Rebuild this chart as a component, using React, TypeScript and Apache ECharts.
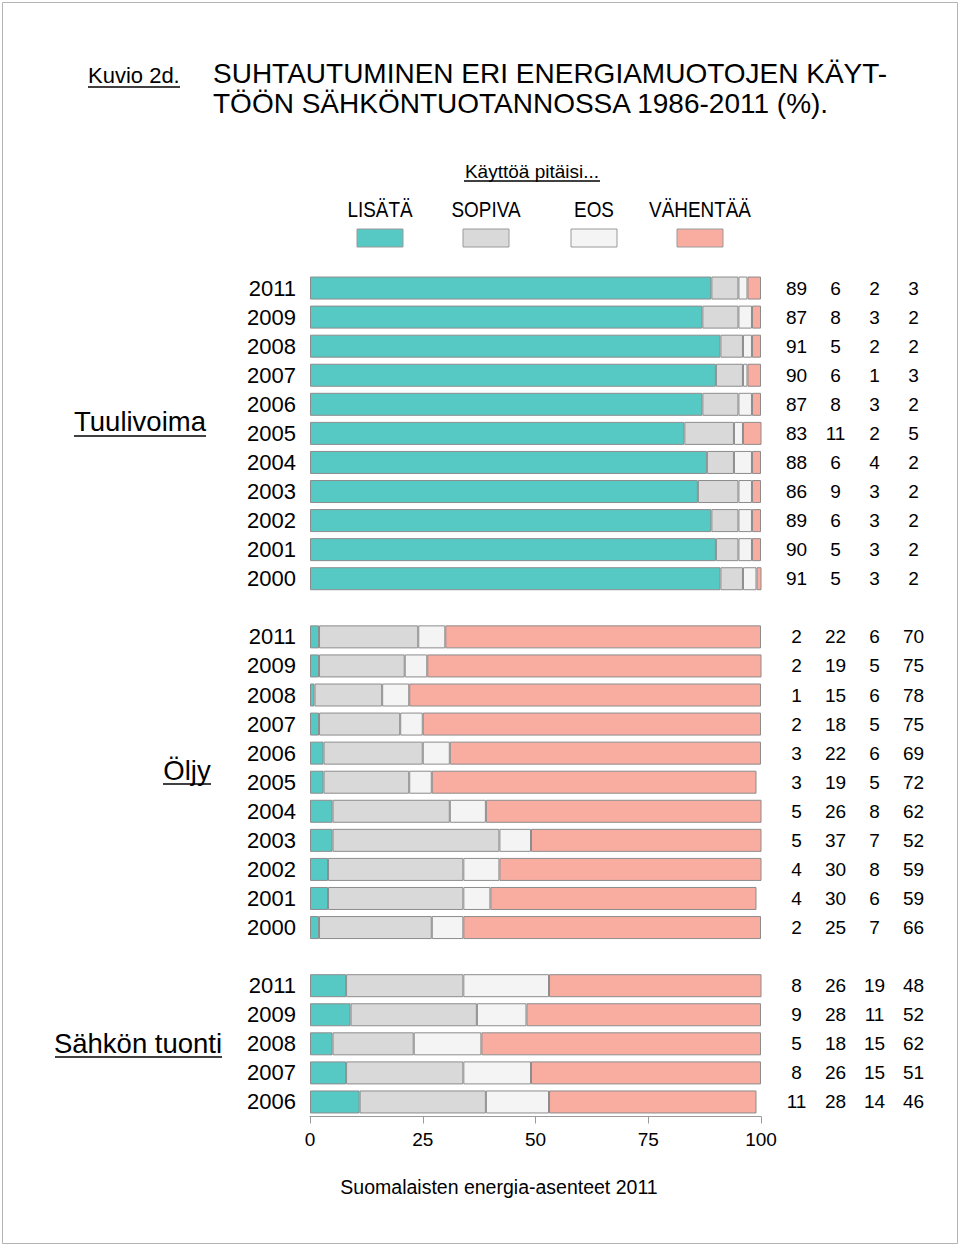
import React, { useEffect, useRef } from 'react';
import * as echarts from 'echarts';

const legendTitle = 'Käyttöä pitäisi...';
const legendNames = ['LISÄTÄ', 'SOPIVA', 'EOS', 'VÄHENTÄÄ'];
const colors = ['#57C9C5', '#D9D9D9', '#F4F4F4', '#F9ACA0'];
const groupNames = ['Tuulivoima', 'Öljy', 'Sähkön tuonti'];
const xTicks = [0, 25, 50, 75, 100];

const windYears = ['2011', '2009', '2008', '2007', '2006', '2005', '2004', '2003', '2002', '2001', '2000'];
const windLisata = [89, 87, 91, 90, 87, 83, 88, 86, 89, 90, 91];
const windSopiva = [6, 8, 5, 6, 8, 11, 6, 9, 6, 5, 5];
const windEos = [2, 3, 2, 1, 3, 2, 4, 3, 3, 3, 3];
const windVahentaa = [3, 2, 2, 3, 2, 5, 2, 2, 2, 2, 2];

const oilYears = ['2011', '2009', '2008', '2007', '2006', '2005', '2004', '2003', '2002', '2001', '2000'];
const oilLisata = [2, 2, 1, 2, 3, 3, 5, 5, 4, 4, 2];
const oilSopiva = [22, 19, 15, 18, 22, 19, 26, 37, 30, 30, 25];
const oilEos = [6, 5, 6, 5, 6, 5, 8, 7, 8, 6, 7];
const oilVahentaa = [70, 75, 78, 75, 69, 72, 62, 52, 59, 59, 66];

const importYears = ['2011', '2009', '2008', '2007', '2006'];
const importLisata = [8, 9, 5, 8, 11];
const importSopiva = [26, 28, 18, 26, 28];
const importEos = [19, 11, 15, 15, 14];
const importVahentaa = [48, 52, 62, 51, 46];

const FONT = '"Liberation Sans", Arial, sans-serif';

export default function App() {
  const ref = useRef<HTMLDivElement>(null);

  useEffect(() => {
    document.body.style.margin = '0';
    if (!ref.current) return;
    const chart = echarts.init(ref.current, undefined, { renderer: 'svg' });

    const groups = [
      { name: groupNames[0], years: windYears, vals: [windLisata, windSopiva, windEos, windVahentaa] },
      { name: groupNames[1], years: oilYears, vals: [oilLisata, oilSopiva, oilEos, oilVahentaa] },
      { name: groupNames[2], years: importYears, vals: [importLisata, importSopiva, importEos, importVahentaa] },
    ];

    const categories: string[] = [];
    const seriesData: (number | null)[][] = [[], [], [], []];
    const rightLabels: Record<string, string> = {};
    groups.forEach((g, gi) => {
      if (gi > 0) {
        const gap = 'gap' + gi;
        categories.push(gap);
        rightLabels[gap] = '';
        for (let s = 0; s < 4; s++) seriesData[s].push(null);
      }
      g.years.forEach((y, i) => {
        const id = g.name + '|' + y;
        categories.push(id);
        for (let s = 0; s < 4; s++) seriesData[s].push(g.vals[s][i]);
        rightLabels[id] = g.vals.map((arr) => '{c|' + arr[i] + '}').join('');
      });
    });

    const underline = (x1: number, x2: number, y: number) => ({
      type: 'line',
      shape: { x1, y1: y, x2, y2: y },
      style: { stroke: '#000', lineWidth: 1.5 },
      silent: true,
    });

    const graphics: any[] = [
      {
        type: 'rect',
        shape: { x: 2.5, y: 2.5, width: 955, height: 1241 },
        style: { fill: 'none', stroke: '#b4b4b4', lineWidth: 1 },
      },
      {
        type: 'text',
        x: 88, y: 75,
        style: { text: 'Kuvio 2d.', font: '22px ' + FONT, fill: '#000', textVerticalAlign: 'middle' },
      },
      underline(88, 180, 87),
      {
        type: 'text',
        x: 213, y: 73,
        style: { text: 'SUHTAUTUMINEN ERI ENERGIAMUOTOJEN KÄYT-', font: '28px ' + FONT, fill: '#000', textVerticalAlign: 'middle' },
      },
      {
        type: 'text',
        x: 213, y: 103,
        style: { text: 'TÖÖN SÄHKÖNTUOTANNOSSA 1986-2011 (%).', font: '28px ' + FONT, fill: '#000', textVerticalAlign: 'middle' },
      },
      {
        type: 'text',
        x: 532, y: 171,
        style: { text: legendTitle, font: '19px ' + FONT, fill: '#000', textAlign: 'center', textVerticalAlign: 'middle' },
      },
      underline(464, 600, 181),
      {
        type: 'text',
        x: 499, y: 1187,
        style: { text: 'Suomalaisten energia-asenteet 2011', font: '19.5px ' + FONT, fill: '#000', textAlign: 'center', textVerticalAlign: 'middle' },
      },
    ];

    const legendX = [380, 486, 594, 700];
    legendNames.forEach((n, i) => {
      graphics.push({
        type: 'text',
        x: legendX[i], y: 209,
        scaleX: 0.86,
        style: { text: n, font: '22px ' + FONT, fill: '#000', textAlign: 'center', textVerticalAlign: 'middle' },
      });
      graphics.push({
        type: 'rect',
        shape: { x: legendX[i] - 23, y: 229, width: 46, height: 18 },
        style: { fill: colors[i], stroke: '#9a9a9a', lineWidth: 1 },
      });
    });

    const groupLabelPos = [
      { x: 140, y: 421, u: [74, 206, 436] },
      { x: 187, y: 770, u: [163, 211, 784] },
      { x: 138, y: 1043, u: [55, 222, 1057] },
    ];
    groupNames.forEach((n, i) => {
      const p = groupLabelPos[i];
      graphics.push({
        type: 'text',
        x: p.x, y: p.y,
        style: { text: n, font: '27.5px ' + FONT, fill: '#000', textAlign: 'center', textVerticalAlign: 'middle' },
      });
      graphics.push(underline(p.u[0], p.u[1], p.u[2]));
    });

    const option: any = {
      animation: false,
      backgroundColor: '#fff',
      grid: { left: 310, right: 199, top: 273.5, height: 843, containLabel: false },
      xAxis: {
        type: 'value',
        min: 0,
        max: 100,
        interval: 25,
        axisLine: { show: true, lineStyle: { color: '#9a9a9a', width: 1 } },
        axisTick: { show: true, length: 7, lineStyle: { color: '#9a9a9a' } },
        splitLine: { show: false },
        axisLabel: {
          margin: 13,
          fontSize: 19,
          color: '#000',
          fontFamily: FONT,
          formatter: (v: number) => (xTicks.includes(v) ? String(v) : ''),
        },
      },
      yAxis: [
        {
          type: 'category',
          data: categories,
          inverse: true,
          axisLine: { show: false },
          axisTick: { show: false },
          splitLine: { show: false },
          axisLabel: {
            margin: 14,
            fontSize: 22,
            color: '#000',
            fontFamily: FONT,
            interval: 0,
            formatter: (v: string) => (v.startsWith('gap') ? '' : v.split('|')[1]),
          },
        },
        {
          type: 'category',
          position: 'right',
          data: categories,
          inverse: true,
          axisLine: { show: false },
          axisTick: { show: false },
          splitLine: { show: false },
          axisLabel: {
            margin: 16,
            interval: 0,
            formatter: (v: string) => rightLabels[v] || '',
            rich: {
              c: { width: 39, align: 'center', fontSize: 19, color: '#000', fontFamily: FONT },
            },
          },
        },
      ],
      series: legendNames.map((n, i) => ({
        name: n,
        type: 'bar',
        stack: 'total',
        yAxisIndex: 0,
        barWidth: 23,
        data: seriesData[i],
        itemStyle: { color: colors[i], borderColor: '#8c8c8c', borderWidth: 1 },
        emphasis: { disabled: true },
      })),
      graphic: graphics,
    };

    chart.setOption(option);
    return () => chart.dispose();
  }, []);

  return <div ref={ref} style={{ width: 960, height: 1248 }} />;
}
